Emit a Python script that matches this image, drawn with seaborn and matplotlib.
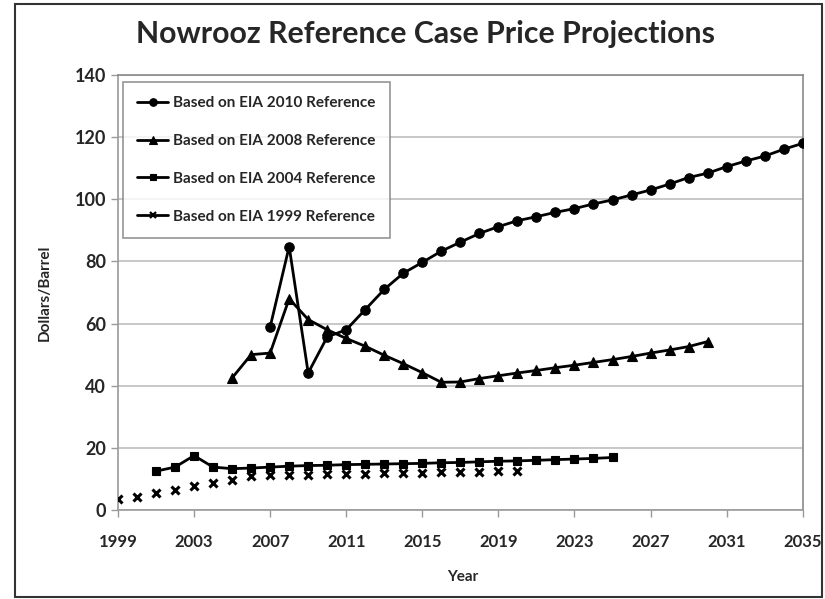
import matplotlib
matplotlib.use("Agg")
import matplotlib.pyplot as plt
import seaborn as sns
import pandas as pd
from matplotlib.lines import Line2D
from matplotlib.patches import Rectangle

# ---- data ----
years_2010 = list(range(2007, 2036))
eia_2010 = [58.9, 84.8, 44.1, 55.7, 58.0, 64.5, 71.0, 76.2, 79.7, 83.3, 86.2, 89.0,
            91.2, 93.1, 94.4, 95.8, 97.0, 98.5, 99.8, 101.4, 103.0, 104.9, 107.0,
            108.4, 110.5, 112.3, 113.9, 116.1, 118.0]

years_2008 = list(range(2005, 2031))
eia_2008 = [42.5, 50.0, 50.5, 68.0, 61.3, 58.0, 55.2, 52.7, 49.8, 47.1, 44.2, 41.1,
            41.2, 42.3, 43.2, 44.1, 44.9, 45.8, 46.6, 47.5, 48.4, 49.4, 50.5, 51.5,
            52.6, 54.2]

years_2004 = list(range(2001, 2026))
eia_2004 = [12.5, 13.8, 17.5, 13.8, 13.3, 13.5, 13.8, 14.1, 14.3, 14.4, 14.6, 14.7,
            14.8, 14.9, 15.0, 15.2, 15.3, 15.5, 15.7, 15.8, 16.0, 16.2, 16.4, 16.6, 16.9]

years_1999 = list(range(1999, 2021))
eia_1999 = [3.5, 4.1, 5.5, 6.5, 7.8, 8.6, 9.8, 10.8, 11.3, 11.3, 11.4, 11.5, 11.6,
            11.7, 11.8, 11.9, 12.0, 12.1, 12.2, 12.3, 12.4, 12.5]

labels = ["Based on EIA 2010 Reference", "Based on EIA 2008 Reference",
          "Based on EIA 2004 Reference", "Based on EIA 1999 Reference"]
x_ticks = list(range(1999, 2036, 4))
y_ticks = list(range(0, 141, 20))

title = "Nowrooz Reference Case Price Projections"
x_label = "Year"
y_label = "Dollars/Barrel"

# ---- styling ----
sns.set_theme(style="white")
plt.rcParams["font.family"] = ["Lato", "DejaVu Sans"]
plt.rcParams["font.weight"] = "bold"

fig = plt.figure(figsize=(8.25, 5.99), dpi=100)
ax = fig.add_axes([0.143, 0.1486, 0.830, 0.7262])

grid_c = "#c4c4c4"
axis_c = "#9a9a9a"

series = [
    (years_2010, eia_2010, "o", 6.8, "-"),
    (years_2008, eia_2008, "^", 7.2, "-"),
    (years_2004, eia_2004, "s", 5.8, "-"),
    (years_1999, eia_1999, "x", 5.8, "none"),
]
handles = []
for (xs, ys, mk, ms, ls), lab in zip(series, labels):
    df = pd.DataFrame({"year": xs, "value": ys})
    sns.lineplot(data=df, x="year", y="value", ax=ax, color="black",
                 linewidth=2.0, linestyle=ls, marker=mk, markersize=ms,
                 markeredgewidth=2.2 if mk == "x" else 0.8,
                 markeredgecolor="black", markerfacecolor="black",
                 legend=False, zorder=3)
    handles.append(Line2D([0], [0], color="black", linewidth=2.0,
                          marker=mk, markersize=ms * 0.8,
                          markeredgewidth=1.6 if mk == "x" else 0.8,
                          markerfacecolor="black", markeredgecolor="black"))

ax.set_xlim(1999, 2035)
ax.set_ylim(0, 140)
ax.set_xticks(x_ticks)
ax.set_yticks(y_ticks)
ax.set_xticklabels([str(v) for v in x_ticks], fontsize=12, fontweight="bold")
ax.set_yticklabels([str(v) for v in y_ticks], fontsize=13, fontweight="bold")
ax.yaxis.grid(True, color=grid_c, linewidth=1.3)
ax.xaxis.grid(False)
ax.set_axisbelow(True)
ax.tick_params(axis="both", which="major", direction="out", length=5,
               width=1, color=axis_c, bottom=True, left=True)
ax.tick_params(axis="x", pad=12)
ax.tick_params(axis="y", pad=3.5)
for side in ["left", "bottom"]:
    ax.spines[side].set_color(axis_c)
    ax.spines[side].set_linewidth(1.2)
for side in ["top", "right"]:
    ax.spines[side].set_visible(True)
    ax.spines[side].set_color("#8a8a8a")
    ax.spines[side].set_linewidth(1.2)

ax.set_xlabel(x_label, fontsize=11, fontweight="bold")
ax.set_ylabel(y_label, fontsize=11, fontweight="bold")
ax.xaxis.set_label_coords(0.504, -0.137)
ax.yaxis.set_label_coords(-0.097, 0.5)

leg = ax.legend(handles, labels, loc="upper left", bbox_to_anchor=(0.0073, 0.984),
                borderaxespad=0, fancybox=False, frameon=True, handlelength=2.0,
                handletextpad=0.3, labelspacing=1.55, borderpad=0.95,
                prop={"family": ["Lato", "DejaVu Sans"], "weight": "bold", "size": 11})
leg.get_frame().set_edgecolor("#7a7a7a")
leg.get_frame().set_linewidth(1.2)
leg.get_frame().set_facecolor("white")

fig.suptitle(title, x=0.516, y=0.943, va="center", fontsize=21.8, fontweight="bold")

fig.patches.append(Rectangle((0.018, 0.003), 0.978, 0.99, transform=fig.transFigure,
                             fill=False, edgecolor="#333333", linewidth=1.5))

fig.savefig("out.png", dpi=100)
